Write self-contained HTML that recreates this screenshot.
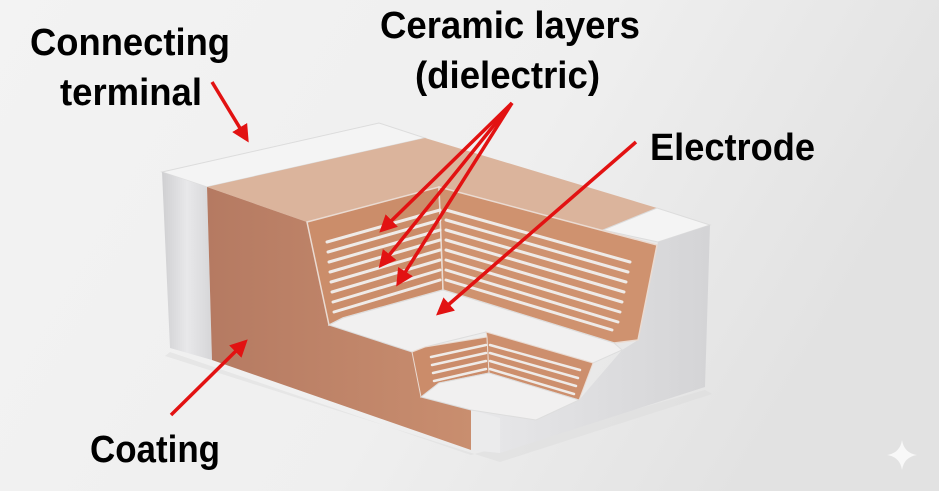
<!DOCTYPE html>
<html><head><style>
html,body{margin:0;padding:0;width:939px;height:491px;overflow:hidden;background:#ececec}
svg{display:block}
text{font-family:"Liberation Sans",Arial,sans-serif;font-weight:bold;fill:#000}
</style></head><body>
<svg width="939" height="491" viewBox="0 0 939 491" xmlns="http://www.w3.org/2000/svg">
<defs>
<linearGradient id="bg" x1="0" y1="0" x2="1" y2="0.3">
<stop offset="0" stop-color="#f3f3f3"/><stop offset="0.6" stop-color="#efefef"/><stop offset="1" stop-color="#e2e2e2"/></linearGradient>
<linearGradient id="front" x1="0" y1="0" x2="1" y2="0">
<stop offset="0" stop-color="#b57a62"/><stop offset="1" stop-color="#c98e6f"/></linearGradient>
<linearGradient id="silv" x1="0" y1="0" x2="1" y2="0">
<stop offset="0" stop-color="#cfcfd1"/><stop offset="0.5" stop-color="#e8e8ea"/><stop offset="1" stop-color="#d6d6d8"/></linearGradient>
<linearGradient id="silv2" x1="0" y1="0" x2="1" y2="0">
<stop offset="0" stop-color="#e8e8ea"/><stop offset="1" stop-color="#d4d4d6"/></linearGradient>
<marker id="ah" markerWidth="5" markerHeight="5" refX="3.5" refY="2.5" orient="auto" markerUnits="strokeWidth">
<path d="M0,0 L5,2.5 L0,5 z" fill="#e21212"/></marker>
</defs>
<rect width="939" height="491" fill="url(#bg)"/>
<polygon points="170,352 471,455 705,390 712,394 500,462 165,356" fill="#dcdcdc" opacity="0.5"/>
<polygon points="162,172 379,123 425,138 207,187" fill="#f4f4f4" stroke="#dcdcdc"/>
<polygon points="162,172 207,187 212,360 170,348" fill="url(#silv)"/>
<polygon points="207,187 425,138 657,208 603,230 657,245 439,187 307,222" fill="#dbb49c"/>
<polygon points="207,187 307,222 329,325 412,352 421,397 471,410 471,450 212,360" fill="url(#front)"/>
<polygon points="603,230 657,208 710,225 658,242" fill="#f4f4f4" stroke="#dcdcdc"/>
<polygon points="471,410 536,420 579,400 622,350 638,340 658,242 710,225 705,387 500,453 471,450" fill="url(#silv2)"/>
<polygon points="471,410 500,418 500,453 471,450" fill="#ebebec"/>
<polygon points="307,222 439,187 443,290 343,318 329,325" fill="#cb8d6a" stroke="#eadbd2" stroke-width="1.5"/>
<polygon points="439,187 657,245 638,340 614,343 443,290" fill="#cf926f" stroke="#eadbd2" stroke-width="1.5"/>
<g stroke="#efebe8" stroke-width="3" stroke-linecap="round" fill="none">
<path d="M327,242 L440,210 M328,252 L440,220 M329,262 L440,230 M330,272 L440,240 M331,282 L440,250 M332,292 L440,260 M333,302 L440,270 M334,312 L440,280"/>
<path d="M446,210 L630,262 M446,220 L628,272 M446,230 L626,282 M446,240 L624,292 M446,250 L622,302 M446,260 L620,312 M446,270 L618,322 M446,280 L612,330"/>
</g>
<polygon points="329,325 343,318 443,290 614,343 622,350 593,363 486,332 425,347 412,352" fill="#f1f0f0" stroke="#ddd" stroke-width="1"/>
<polygon points="412,352 425,347 487,337 489,373 439,383 421,397" fill="#cb8c6a" stroke="#eadbd2"/>
<polygon points="486,332 593,363 579,400 489,373 487,337" fill="#cd8f6d" stroke="#eadbd2"/>
<g stroke="#efebe8" stroke-width="2.5" stroke-linecap="round" fill="none">
<path d="M431,357 L486,345 M432,365 L486,353 M433,373 L486,361 M434,381 L486,369"/>
<path d="M490,345 L580,370 M490,353 L578,378 M490,361 L576,386 M490,369 L574,394"/>
</g>
<polygon points="421,397 439,383 489,373 579,400 536,420 471,410" fill="#f1f0f0" stroke="#ddd"/>
<g stroke="#e21212" stroke-width="3.5" fill="none" marker-end="url(#ah)">
<line x1="212" y1="82" x2="246" y2="138"/>
<line x1="512" y1="103" x2="383" y2="229"/>
<line x1="512" y1="103" x2="382" y2="264"/>
<line x1="512" y1="103" x2="399" y2="282"/>
<line x1="636" y1="142" x2="440" y2="312"/>
<line x1="171" y1="415" x2="244" y2="343"/>
</g>
<text x="30" y="55" font-size="38" textLength="200" lengthAdjust="spacingAndGlyphs">Connecting</text>
<text x="60" y="105" font-size="38" textLength="142" lengthAdjust="spacingAndGlyphs">terminal</text>
<text x="380" y="38" font-size="38" textLength="260" lengthAdjust="spacingAndGlyphs">Ceramic layers</text>
<text x="415" y="88" font-size="38" textLength="185" lengthAdjust="spacingAndGlyphs">(dielectric)</text>
<text x="650" y="160" font-size="38" textLength="165" lengthAdjust="spacingAndGlyphs">Electrode</text>
<text x="90" y="462" font-size="38" textLength="130" lengthAdjust="spacingAndGlyphs">Coating</text>
<path d="M902,440 Q904,453 917,455 Q904,457 902,470 Q900,457 887,455 Q900,453 902,440 z" fill="#f8f8f8"/>
</svg>
</body></html>
